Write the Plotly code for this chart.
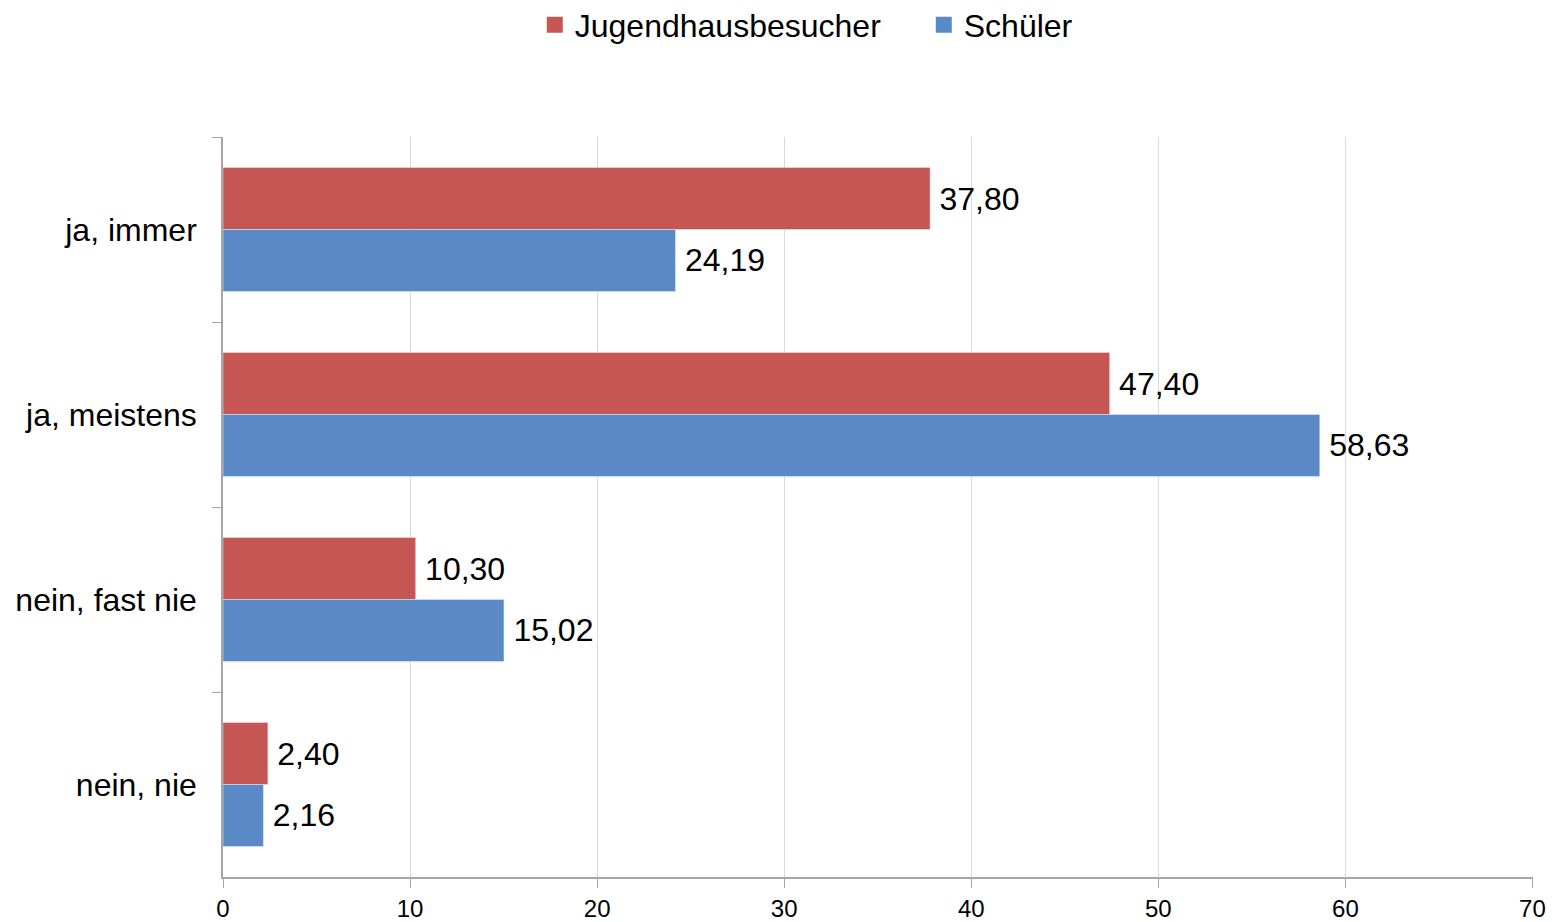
import plotly.graph_objects as go

kategorien = ["ja, immer", "ja, meistens", "nein, fast nie", "nein, nie"]
jugendhaus = [37.80, 47.40, 10.30, 2.40]
schueler = [24.19, 58.63, 15.02, 2.16]

FONT = "Liberation Sans, Arial, sans-serif"
ROT = "#C55654"
BLAU = "#5A89C6"

fig = go.Figure()

for name, werte, farbe in [("Jugendhausbesucher", jugendhaus, ROT), ("Schüler", schueler, BLAU)]:
    fig.add_trace(
        go.Bar(
            y=kategorien,
            x=werte,
            orientation="h",
            name=name,
            marker=dict(color=farbe),
            texttemplate="\u2009%{x:.2f}",
            textposition="outside",
            textfont=dict(size=32, color="#000000"),
            cliponaxis=False,
            showlegend=False,
        )
    )

# Legendeneintraege mit groesseren Quadraten
for name, farbe in [("Jugendhausbesucher", ROT), ("Schüler", BLAU)]:
    fig.add_trace(
        go.Scatter(
            x=[None],
            y=[None],
            mode="markers",
            name=name,
            marker=dict(symbol="square", size=17, color=farbe),
        )
    )

fig.update_layout(
    width=1540,
    height=914,
    barmode="group",
    bargap=0.33,
    bargroupgap=0,
    separators=",.",
    plot_bgcolor="white",
    paper_bgcolor="white",
    font=dict(family=FONT, size=24, color="#000000"),
    margin=dict(l=215, r=15, t=129, b=45, autoexpand=False),
    legend=dict(
        orientation="h",
        x=0.238,
        xanchor="left",
        y=1.1514,
        yanchor="middle",
        font=dict(size=32),
        itemwidth=30,
        entrywidth=344,
        borderwidth=0,
    ),
)

fig.update_xaxes(
    range=[0, 70.03],
    tickvals=[0, 10, 20, 30, 40, 50, 60, 70],
    showgrid=True,
    gridcolor="#D9D9D9",
    gridwidth=1,
    zeroline=False,
    showline=True,
    linecolor="#A6A6A6",
    linewidth=2,
    ticks="outside",
    ticklen=9,
    tickcolor="#A6A6A6",
    tickfont=dict(size=24),
)

fig.update_yaxes(
    autorange="reversed",
    showline=True,
    linecolor="#A6A6A6",
    linewidth=2,
    ticks="outside",
    ticklen=9,
    tickcolor="#A6A6A6",
    tickson="boundaries",
    tickfont=dict(size=32),
    ticksuffix="  ",
)

fig.write_html("out.html")
